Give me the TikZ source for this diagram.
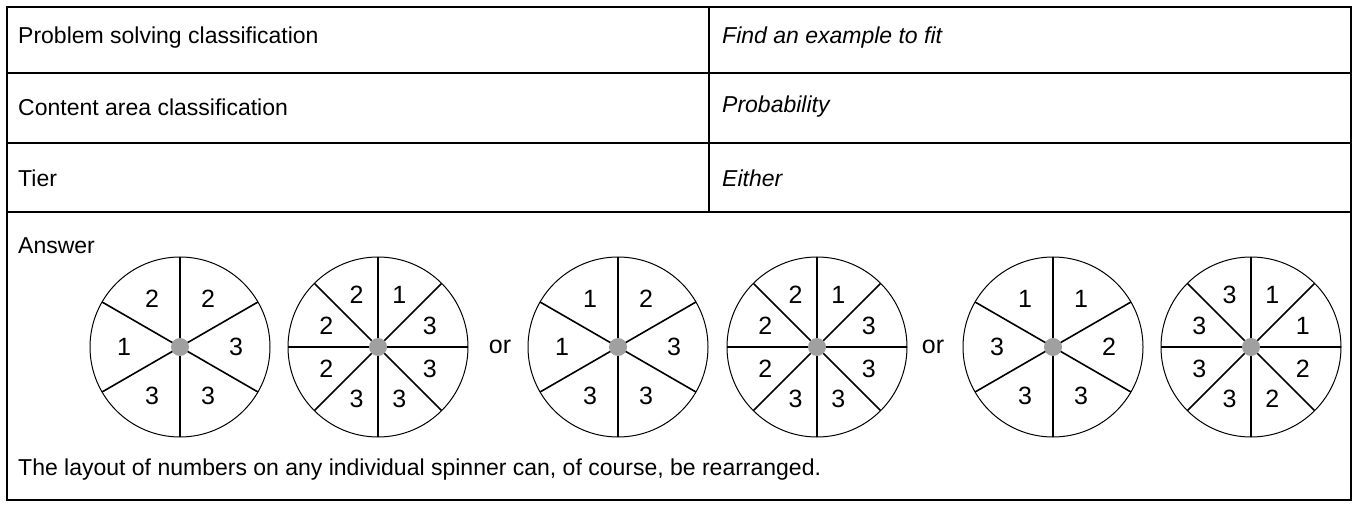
\documentclass[tikz,border=0pt]{standalone}
\usepackage{fontspec}
\setmainfont{Liberation Sans}
\usepackage{tikz}
\usetikzlibrary{positioning, calc}
\definecolor{DotGray}{RGB}{160, 160, 160}

\tikzset{
  celltext/.style={anchor=west, inner sep=0pt, font=\fontsize{23}{27}\selectfont},
  spinnum/.style={inner sep=0pt, font=\fontsize{25}{28}\selectfont},
  spindot/.style={circle, fill=DotGray, inner sep=0pt, minimum size=18pt}
}

\begin{document}
\begin{tikzpicture}[x=1pt, y=1pt]
    \useasboundingbox (0,0) rectangle (1355,504);
    % table frame
    \draw[line width=2pt] (7,4) rectangle (1351,497);
    \draw[line width=2pt] (7,431) -- (1351,431);
    \draw[line width=2pt] (7,361) -- (1351,361);
    \draw[line width=2pt] (7,292) -- (1351,292);
    \draw[line width=2pt] (709,292) -- (709,497);
    % classification rows
    \node[celltext] (ps) at (18,466) {Problem solving classification};
    \node[celltext] (ca) at (18,397) {Content area classification};
    \node[celltext] (tier) at (18,326) {Tier};
    \node[celltext] (psval) at (722,466) {\itshape Find an example to fit};
    \node[celltext] (caval) at (722,397) {\itshape Probability};
    \node[celltext] (tierval) at (722,326) {\itshape Either};
    \node[celltext] (answer) at (18,258) {Answer};
    % spinners: centre x / sectors / numbers (counter-clockwise from the right)
    \foreach \cx/\k/\labs [count=\s] in {180/6/{3,2,2,1,3,3}, 378/8/{3,1,2,2,2,3,3,3},
        618/6/{3,2,1,1,3,3}, 817/8/{3,1,2,2,2,3,3,3},
        1053/6/{2,1,1,3,3,3}, 1251/8/{1,1,3,3,3,3,2,2}} {
      \coordinate (c\s) at (\cx,157);
      \draw[line width=1pt] (c\s) circle (90);
      \pgfmathsetmacro{\stepang}{360/\k}
      \pgfmathsetmacro{\offang}{\k==6 ? 30 : 0}
      \pgfmathsetmacro{\labang}{\k==6 ? 0 : 22.5}
      \foreach \j in {1,...,\k}
        \draw[line width=1.6pt] (c\s) -- ++({\offang+\j*\stepang}:90);
      \foreach \t [count=\i from 0] in \labs
        \node[spinnum] (n\s-\i) at ($(c\s)+({\labang+\i*\stepang}:56)$) {\t};
      \node[spindot] (dot\s) at (c\s) {};
    }
    \node[spinnum] (or1) at (500,157) {or};
    \node[spinnum] (or2) at (933,157) {or};
    \node[celltext] (note) at (18,34) {The layout of numbers on any individual spinner can, of course, be rearranged.};
  \end{tikzpicture}
\end{document}
